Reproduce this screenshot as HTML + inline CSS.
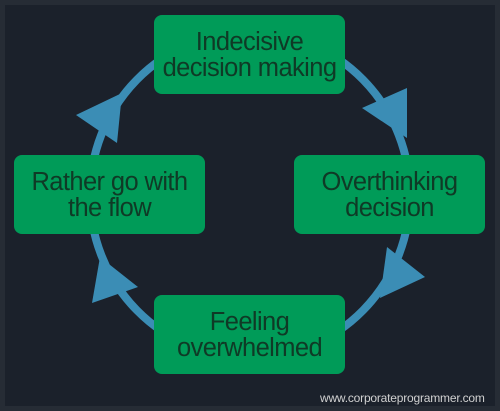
<!DOCTYPE html>
<html><head><style>
html,body{margin:0;padding:0;}
body{width:500px;height:411px;background:#262c35;position:relative;overflow:hidden;font-family:"Liberation Sans",sans-serif;}
.bg{position:absolute;left:5px;top:5px;width:490px;height:401px;background:#1b212b;}
.box{position:absolute;width:191px;height:79px;background:#009b58;border-radius:8px;color:#0f3a26;font-size:25.5px;line-height:26px;text-align:center;display:flex;align-items:center;justify-content:center;letter-spacing:-0.6px;}
.wm{position:absolute;left:320px;top:391px;font-size:12px;color:#d0d0d0;letter-spacing:-0.2px;}
</style></head><body>
<div class="bg"></div>
<svg width="500" height="411" style="position:absolute;left:0;top:0">
<ellipse cx="250" cy="195" rx="160" ry="163" fill="none" stroke="#3b8db5" stroke-width="8"/>
<g fill="#3b8db5">
<polygon points="407,88 362,108 407,138"/>
<polygon points="387,247 425,277 380,298"/>
<polygon points="100,257 138,287 92,303"/>
<polygon points="76,115 122,93 117,143"/>
</g>
</svg>
<div class="box" style="left:154px;top:15px;">Indecisive<br>decision making</div>
<div class="box" style="left:294px;top:155px;">Overthinking<br>decision</div>
<div class="box" style="left:14px;top:155px;">Rather go with<br>the flow</div>
<div class="box" style="left:154px;top:295px;">Feeling<br>overwhelmed</div>
<div class="wm">www.corporateprogrammer.com</div>
</body></html>
